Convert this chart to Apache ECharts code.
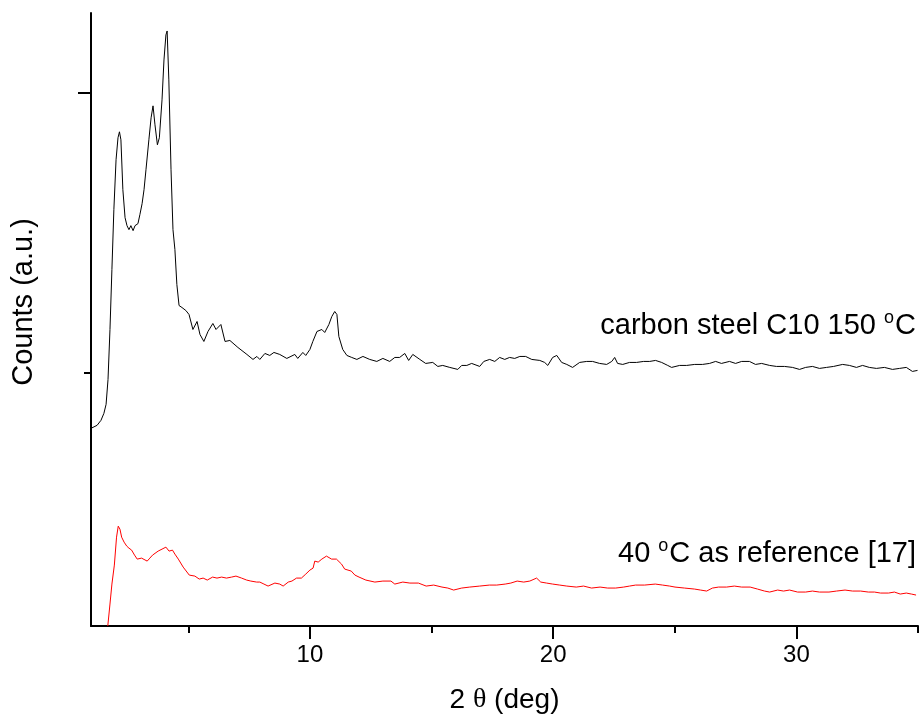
<!DOCTYPE html>
<html>
<head>
<meta charset="utf-8">
<title>XRD patterns</title>
<script src="https://cdn.jsdelivr.net/npm/echarts@6/dist/echarts.min.js"></script>
<style>
  html, body { margin: 0; padding: 0; background: #fff; }
  #chart { width: 920px; height: 719px; }
</style>
</head>
<body>
<div id="chart"></div>
<script>
// carbon steel C10 150 °C (2θ, counts a.u.)
const steelX = [1.00, 1.25, 1.41, 1.53, 1.62, 1.70, 1.78, 1.86, 1.94, 2.03, 2.11, 2.17, 2.23, 2.31, 2.40, 2.48, 2.56, 2.64, 2.73, 2.81, 2.93,
  3.01, 3.10, 3.18, 3.26, 3.38, 3.47, 3.55, 3.63, 3.73, 3.81, 3.92, 4.00, 4.08, 4.13, 4.20, 4.29, 4.37, 4.45, 4.53, 4.62, 4.74, 4.90,
  5.03, 5.19, 5.36, 5.48, 5.64, 5.81, 6.01, 6.14, 6.34, 6.51, 6.71, 7.04, 7.41, 7.66, 7.82, 7.94, 8.15, 8.35, 8.52, 8.76, 9.05, 9.38,
  9.50, 9.71, 9.83, 10.00, 10.12, 10.29, 10.49, 10.61, 10.78, 10.90, 11.02, 11.11, 11.19, 11.35, 11.52, 11.72, 11.93, 12.18, 12.46,
  12.75, 13.00, 13.28, 13.49, 13.69, 13.90, 14.06, 14.23, 14.52, 14.76, 15.05, 15.26, 15.46, 15.75, 16.08, 16.24, 16.45, 16.65, 16.98,
  17.15, 17.39, 17.60, 17.80, 18.01, 18.21, 18.42, 18.63, 18.87, 19.12, 19.45, 19.65, 19.78, 19.98, 20.15, 20.35, 20.56, 20.80, 21.09,
  21.38, 21.62, 21.91, 22.20, 22.41, 22.53, 22.65, 22.86, 23.14, 23.43, 23.72, 23.97, 24.21, 24.46, 24.71, 24.87, 25.20, 25.49, 25.82,
  26.14, 26.43, 26.68, 26.92, 27.25, 27.50, 27.75, 28.07, 28.32, 28.57, 28.90, 29.18, 29.51, 29.84, 30.13, 30.38, 30.66, 30.95, 31.24,
  31.53, 31.90, 32.18, 32.47, 32.72, 33.00, 33.29, 33.62, 33.95, 34.24, 34.52, 34.77, 34.98];
const steelY = [198, 201, 206, 213, 222, 247, 297, 357, 417, 467, 489, 495, 487, 437, 409, 401, 397, 401, 396, 401, 403,
  412, 423, 437, 457, 487, 509, 521, 502, 482, 489, 527, 567, 592, 596, 547, 457, 397, 377, 342, 321, 319, 316,
  312, 297, 305, 292, 285, 295, 303, 297, 302, 285, 286, 279, 272, 267, 270, 267, 273, 271, 274, 272, 268, 272,
  268, 274, 271, 277, 285, 295, 297, 294, 302, 310, 315, 312, 290, 277, 271, 269, 267, 270, 267,
  265, 268, 265, 269, 269, 273, 266, 272, 267, 263, 264, 260, 261, 259, 257, 261, 261, 263, 260,
  265, 267, 265, 269, 267, 269, 268, 270, 270, 267, 266, 264, 261, 269, 271, 264, 262, 259, 264,
  265, 265, 263, 262, 265, 269, 263, 262, 264, 264, 265, 265, 266, 264, 261, 259, 261, 261, 262,
  262, 263, 265, 263, 265, 263, 265, 265, 262, 263, 261, 260, 260, 259, 257, 259, 260, 258, 259,
  260, 262, 261, 259, 261, 259, 258, 259, 257, 258, 259, 255, 256];

// 40 °C as reference [17]
const refX = [1.69, 1.78, 1.86, 1.96, 2.05, 2.12, 2.19, 2.26, 2.36, 2.47, 2.56, 2.67, 2.79, 2.90, 3.08, 3.31, 3.42, 3.53, 3.76, 3.92,
  4.08, 4.21, 4.35, 4.45, 4.59, 4.79, 5.04, 5.27, 5.45, 5.61, 5.78, 6.00, 6.18, 6.37, 6.57, 6.78, 6.96, 7.19, 7.40, 7.57, 7.81, 7.94,
  8.11, 8.28, 8.56, 8.76, 8.90, 9.11, 9.26, 9.45, 9.65, 9.83, 10.00, 10.13, 10.20, 10.34, 10.49, 10.68, 10.89, 11.09, 11.30, 11.43,
  11.70, 11.85, 12.02, 12.30, 12.67, 13.00, 13.33, 13.49, 13.82, 14.11, 14.46, 14.78, 15.09, 15.43, 15.67, 15.91, 16.24, 16.57, 16.98,
  17.38, 17.68, 18.03, 18.26, 18.52, 18.79, 19.04, 19.32, 19.49, 19.73, 19.98, 20.27, 20.56, 20.95, 21.25, 21.58, 21.93, 22.24, 22.57,
  22.90, 23.14, 23.39, 23.76, 24.20, 24.50, 24.79, 25.01, 25.40, 25.81, 26.06, 26.31, 26.55, 26.80, 27.13, 27.45, 27.75, 28.10, 28.40,
  28.69, 28.90, 29.23, 29.47, 29.72, 30.05, 30.38, 30.66, 30.95, 31.34, 31.65, 32.00, 32.31, 32.64, 32.96, 33.21, 33.46, 33.79, 34.03,
  34.27, 34.52, 34.73, 34.92];
const refY = [0, 22, 42, 61, 89, 100, 97, 89, 84, 80, 78, 76, 71, 67, 68, 65, 68, 71, 75, 77,
  79, 75, 76, 72, 67, 59, 51, 50, 47, 48, 46, 49, 48, 49, 48, 49, 50, 48, 46, 45, 44, 44,
  42, 40, 43, 42, 40, 44, 45, 48, 48, 52, 56, 58, 65, 64, 67, 70, 67, 67, 62, 57,
  55, 51, 49, 46, 44, 45, 45, 42, 44, 43, 43, 40, 41, 39, 38, 36, 38, 39, 40,
  41, 41, 42, 43, 45, 44, 45, 48, 44, 43, 42, 41, 40, 39, 40, 38, 39, 38, 38,
  39, 40, 41, 41, 42, 41, 40, 39, 38, 37, 36, 35, 38, 39, 39, 40, 39, 39, 37,
  35, 34, 36, 35, 36, 34, 34, 35, 34, 34, 35, 36, 35, 35, 34, 34, 33, 33, 34,
  32, 33, 32, 31];

const xTickMajor = [10, 20, 30];
const xTickMinor = [5, 15, 25, 35];
const yTickMajor = [534];
const yTickMinor = [254];

const toPairs = (xs, ys) => xs.map((x, i) => [x, ys[i]]);

const chart = echarts.init(document.getElementById('chart'));
const font = 'Liberation Sans, Arial, sans-serif';

const axisCommon = { type: 'value', min: 1, max: 35, splitLine: { show: false } };
const yCommon = { type: 'value', min: 0, max: 614, splitLine: { show: false }, axisLabel: { show: false } };

// superscript degree + text, used by both annotations
const annoRich = {
  n: { fontSize: 29, fontFamily: font, color: '#000' },
  s: { fontSize: 18, fontFamily: font, color: '#000', verticalAlign: 'top', padding: [0, 1, 16, 0] }
};

chart.setOption({
  animation: false,
  backgroundColor: '#fff',
  grid: { left: 91, right: 2, top: 13, bottom: 92 },
  xAxis: [
    Object.assign({}, axisCommon, {
      position: 'bottom',
      axisLine: { lineStyle: { color: '#000', width: 2 } },
      axisTick: { show: true, customValues: xTickMajor, length: 13, lineStyle: { color: '#000', width: 2 } },
      axisLabel: { customValues: xTickMajor, margin: 17, color: '#000', fontSize: 24, fontFamily: font },
      name: '{n|2 }{t|θ}{n| (deg)}',
      nameLocation: 'middle',
      nameGap: 60,
      nameTextStyle: {
        rich: {
          n: { fontSize: 28, fontFamily: font, color: '#000' },
          t: { fontSize: 28, fontFamily: 'Liberation Serif, serif', color: '#000' }
        }
      }
    }),
    Object.assign({}, axisCommon, {
      position: 'bottom',
      offset: 0,
      axisLine: { show: false },
      axisTick: { show: true, customValues: xTickMinor, length: 7, lineStyle: { color: '#000', width: 2 } },
      axisLabel: { show: false }
    })
  ],
  yAxis: [
    Object.assign({}, yCommon, {
      position: 'left',
      axisLine: { show: true, lineStyle: { color: '#000', width: 2 } },
      axisTick: { show: true, customValues: yTickMajor, length: 13, lineStyle: { color: '#000', width: 2 } }
    }),
    Object.assign({}, yCommon, {
      position: 'left',
      offset: 0,
      axisLine: { show: false },
      axisTick: { show: true, customValues: yTickMinor, length: 7, lineStyle: { color: '#000', width: 2 } }
    })
  ],
  graphic: [
    {
      type: 'text', x: 24, y: 302, rotation: Math.PI / 2,
      style: { text: 'Counts (a.u.)', font: '29px ' + font, fill: '#000', align: 'center', verticalAlign: 'middle' }
    },
    {
      type: 'text', right: 4, top: 309,
      style: { text: '{n|carbon steel C10 150 }{s|o}{n|C}', fill: '#000', rich: annoRich }
    },
    {
      type: 'text', right: 4, top: 537,
      style: { text: '{n|40 }{s|o}{n|C as reference [17]}', fill: '#000', rich: annoRich }
    }
  ],
  series: [
    {
      name: 'carbon steel C10 150 °C',
      type: 'line',
      xAxisIndex: 0, yAxisIndex: 0,
      showSymbol: false,
      lineStyle: { color: '#000', width: 1 },
      data: toPairs(steelX, steelY)
    },
    {
      name: '40 °C as reference [17]',
      type: 'line',
      xAxisIndex: 0, yAxisIndex: 0,
      showSymbol: false,
      lineStyle: { color: '#ff0000', width: 1 },
      data: toPairs(refX, refY)
    }
  ]
});
</script>
</body>
</html>
